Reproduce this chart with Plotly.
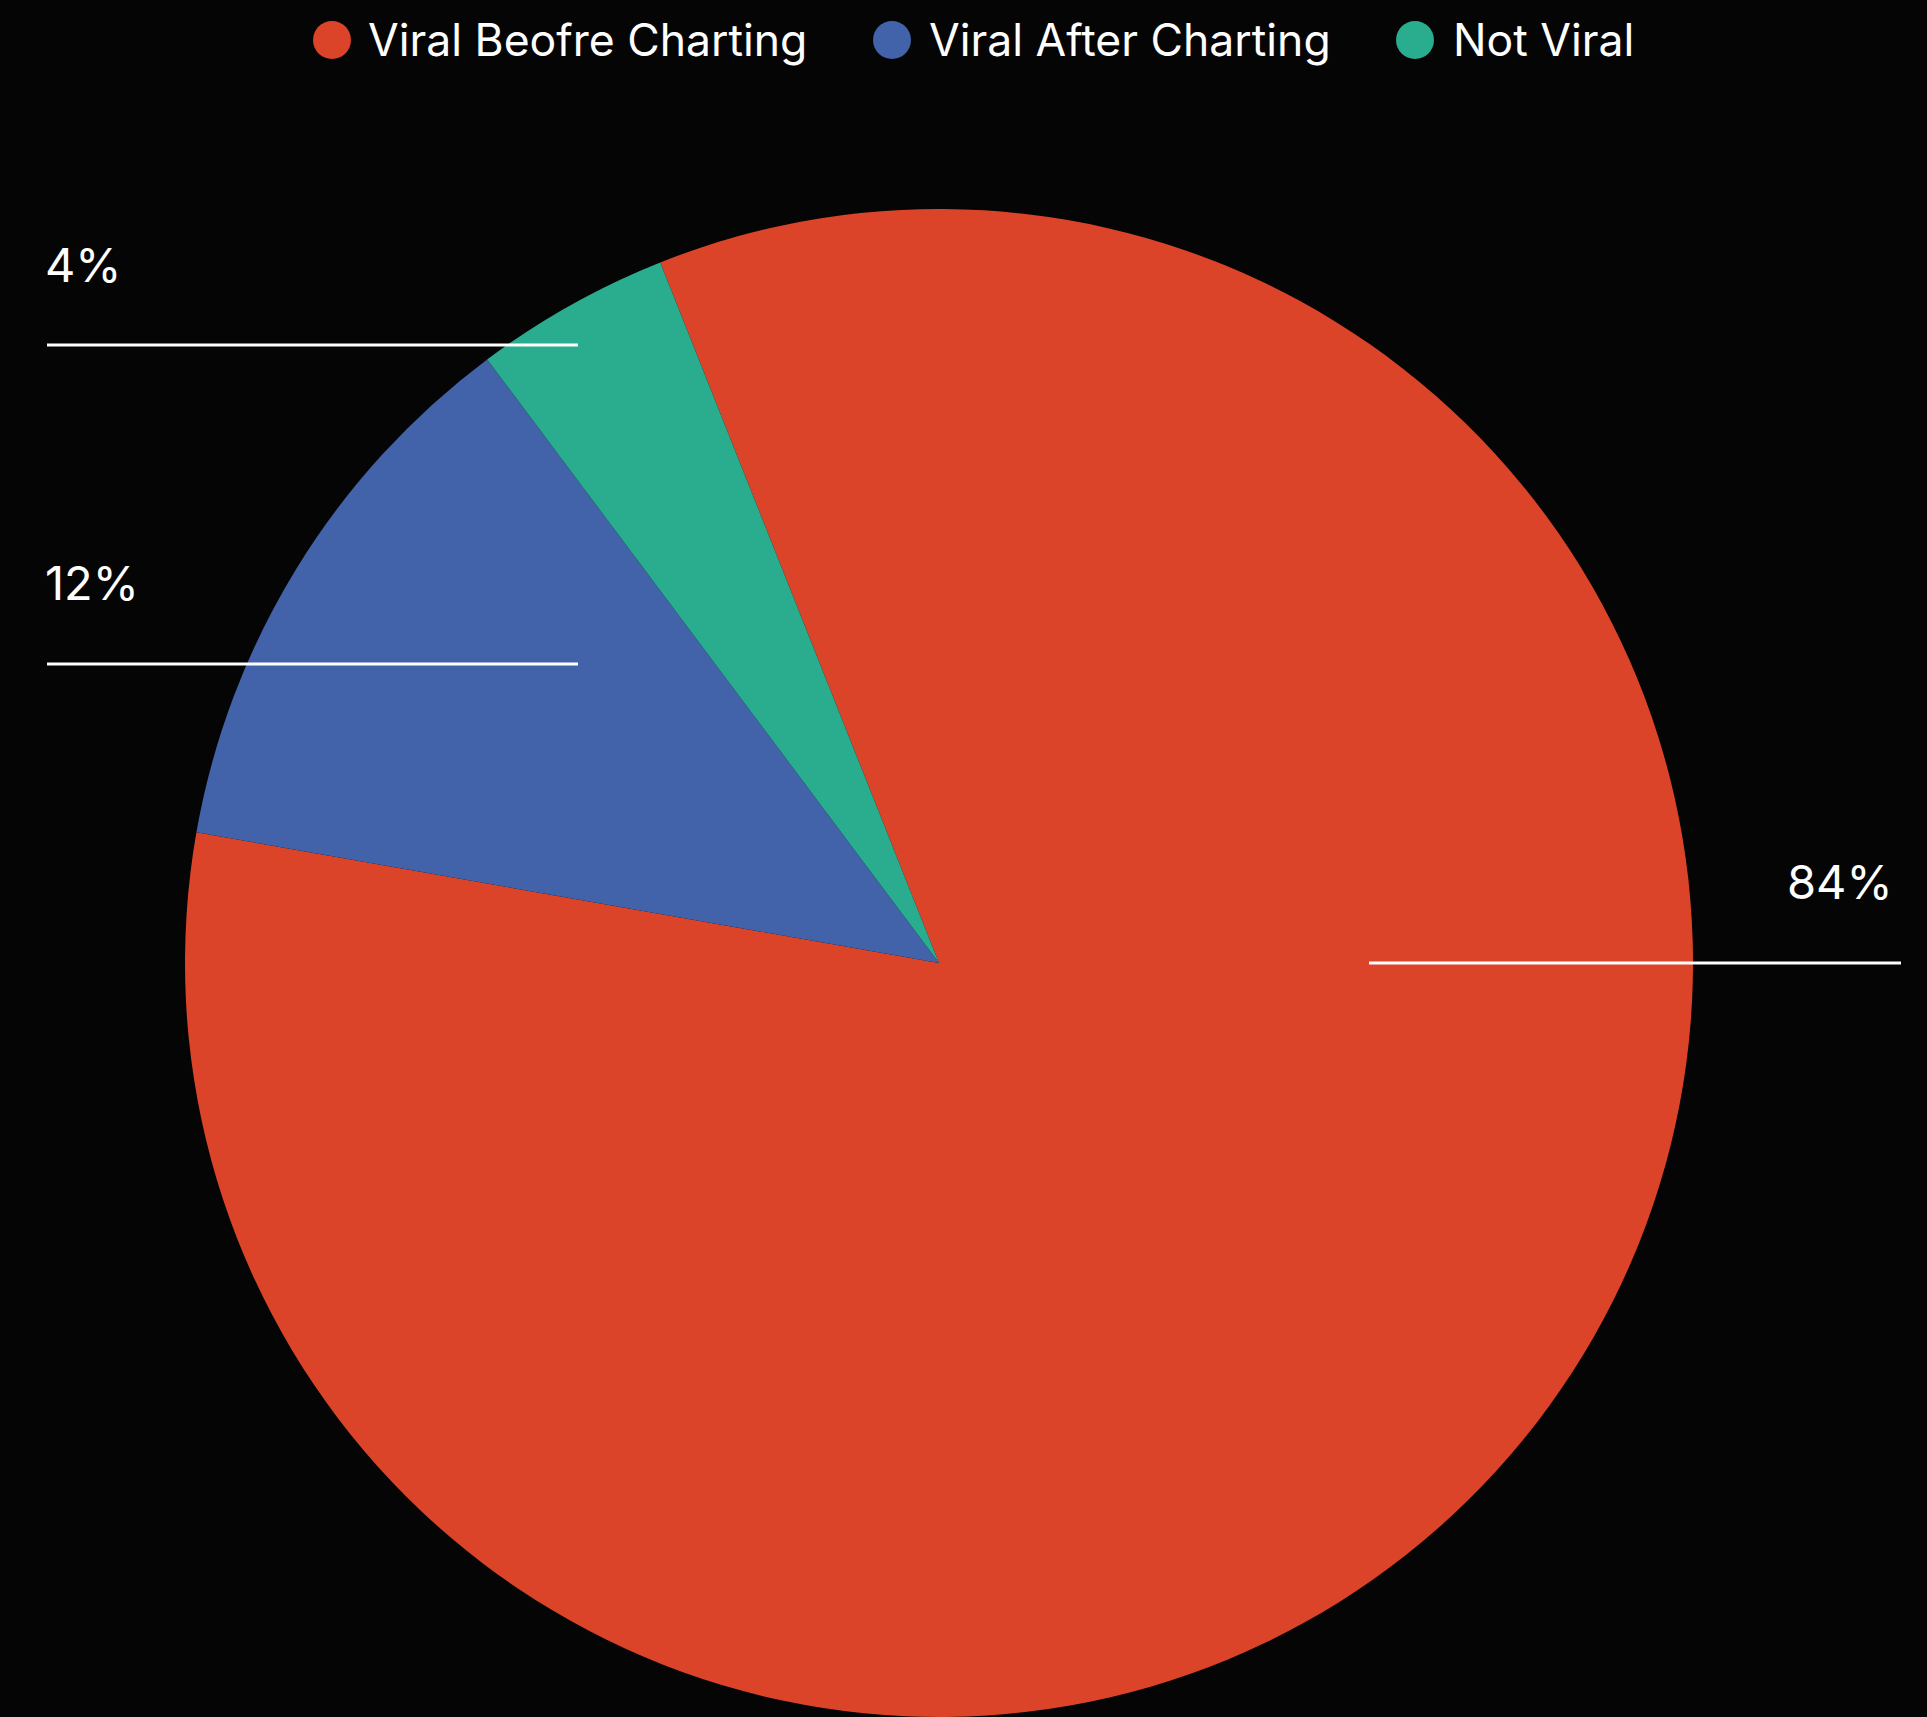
import plotly.graph_objects as go

# ---- data ----
categories = ["Viral Beofre Charting", "Viral After Charting", "Not Viral"]
shares = [83.8, 12.0, 4.2]
colors = ["#DB4428", "#4262AA", "#2AAD8F"]

W, H = 1927, 1717
BG = "#050505"
FONT = "Inter"

fig = go.Figure(
    go.Pie(
        labels=categories,
        values=shares,
        sort=False,
        direction="clockwise",
        rotation=-21.7,
        marker=dict(colors=colors, line=dict(width=0)),
        textinfo="none",
        hoverinfo="label+percent",
        showlegend=False,
        domain=dict(x=[184 / W, 1694 / W], y=[0, 1 - 209 / H]),
    )
)

total = sum(shares)

# layout positions (pixels) for each slice's label + leader line
label_layout = [
    dict(tx=1895, ty=881, anchor="right", lx0=1369, lx1=1901, ly=963),
    dict(tx=43, ty=582, anchor="left", lx0=47, lx1=578, ly=664),
    dict(tx=43, ty=265, anchor="left", lx0=47, lx1=578, ly=345),
]

annotations = []
shapes = []
for v, pos in zip(shares, label_layout):
    annotations.append(dict(
        text=f"{round(v / total * 100)}%",
        x=pos["tx"] / W, y=1 - pos["ty"] / H, xref="paper", yref="paper",
        xanchor=pos["anchor"], yanchor="middle", showarrow=False,
        font=dict(family=FONT, size=47, color="white"),
    ))
    shapes.append(dict(
        type="line", xref="paper", yref="paper",
        x0=pos["lx0"] / W, x1=pos["lx1"] / W,
        y0=1 - pos["ly"] / H, y1=1 - pos["ly"] / H,
        line=dict(color="white", width=3), layer="above",
    ))

# custom legend with large circular markers
legend_circle_x = [332, 892, 1415]
legend_text_x = [366, 927, 1451]
legend_y = 40
for name, col, cx, tx in zip(categories, colors, legend_circle_x, legend_text_x):
    shapes.append(dict(
        type="circle", xref="paper", yref="paper",
        xsizemode="pixel", ysizemode="pixel",
        xanchor=cx / W, yanchor=1 - legend_y / H,
        x0=-19, x1=19, y0=-19, y1=19,
        fillcolor=col, line=dict(width=0), layer="above",
    ))
    annotations.append(dict(
        text=name, x=tx / W, y=1 - legend_y / H, xref="paper", yref="paper",
        xanchor="left", yanchor="middle", showarrow=False,
        font=dict(family=FONT, size=44.5, color="white"),
    ))

fig.update_layout(
    width=W, height=H,
    margin=dict(l=0, r=0, t=0, b=0),
    paper_bgcolor=BG, plot_bgcolor=BG,
    showlegend=False,
    annotations=annotations,
    shapes=shapes,
    font=dict(family=FONT, color="white"),
)

fig.write_html(
    "out.html",
    config={"displayModeBar": False},
    post_script="document.body.style.margin='0';document.body.style.background='%s';" % BG,
)
